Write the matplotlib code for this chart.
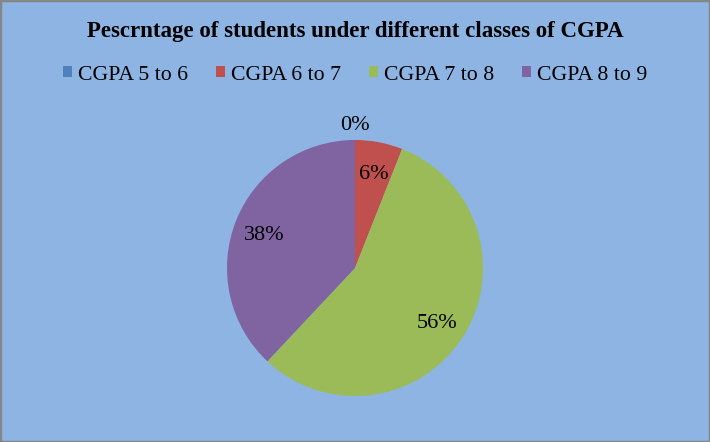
import matplotlib
matplotlib.use("Agg")
import matplotlib.pyplot as plt
from matplotlib.patches import Patch, Rectangle
import numpy as np

categories = ["CGPA 5 to 6", "CGPA 6 to 7", "CGPA 7 to 8", "CGPA 8 to 9"]
values = [0, 6, 56, 38]
colors = ["#4F81BD", "#C0504D", "#9BBB59", "#8064A2"]
title = "Pescrntage of students under different classes of CGPA"

plt.rcParams['font.family'] = ['Liberation Serif', 'DejaVu Serif']

W, H = 710, 442
fig = plt.figure(figsize=(W/100, H/100), dpi=100)
bg = "#8DB4E2"
fig.patch.set_facecolor(bg)
fig.patches.append(Rectangle((0, 0), 1, 1, transform=fig.transFigure,
                             fill=False, edgecolor="#868686", linewidth=2.5))

cx, cy, r = 355, H - 268, 128
ax = fig.add_axes([(cx - r)/W, (cy - r)/H, 2*r/W, 2*r/H])
ax.set_facecolor("none")
wedges, texts, autotexts = ax.pie(values, colors=colors, startangle=90, counterclock=False,
                                  radius=1, autopct=lambda p: f"{p:.0f}%", pctdistance=0.76,
                                  textprops=dict(fontsize=16, color="black"))
ax.set_xlim(-1, 1)
ax.set_ylim(-1, 1)
ax.set_aspect("equal")
ax.axis("off")
for v, t in zip(values, autotexts):
    if v == 0:
        t.set_position((0, 1.14))
autotexts[1].set_position(np.array(autotexts[1].get_position()) * 0.77 / 0.76)
for t in autotexts:
    x, y = t.get_position()
    t.set_position((x, y - 0.025))

fig.text(0.5, 1 - 31/H, title, ha="center", va="center", fontsize=16.5, fontweight="bold")

handles = [Patch(facecolor=c, edgecolor="none", label=l) for c, l in zip(colors, categories)]
fig.legend(handles=handles, loc="center", bbox_to_anchor=(0.5, 1 - 75/H), ncol=4,
           frameon=False, fontsize=15.7, handlelength=0.42, handleheight=0.42,
           handletextpad=0.25, columnspacing=1.3)

fig.savefig("out.png", dpi=100, facecolor=bg)
